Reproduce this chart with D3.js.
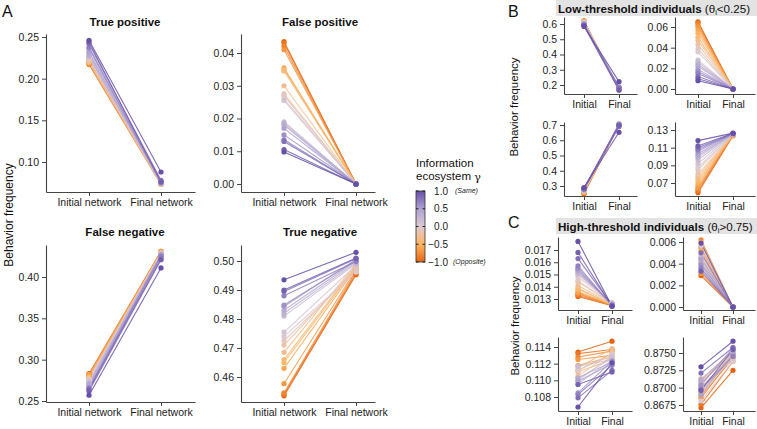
<!DOCTYPE html>
<html>
<head>
<meta charset="utf-8">
<script src="https://cdn.jsdelivr.net/npm/d3@7"></script>
<style>
  body { margin: 0; background: #fff; }
  svg { font-family: "Liberation Sans", Arial, Helvetica, sans-serif; }
  .tick text { fill: #222; }
  .domain, .tick line { stroke: #444; }
</style>
</head>
<body>
<svg id="chart" width="757" height="429"></svg>
<script>
// Information ecosystem gamma for each line
const gamma = [-1.0, -0.9, -0.8, -0.7, -0.6, -0.5, -0.4, -0.3, -0.2, -0.1, 0.0,
               0.1, 0.2, 0.3, 0.4, 0.5, 0.6, 0.7, 0.8, 0.9, 1.0];

// Panel A
const tpInit  = [0.218,0.219,0.217,0.220,0.221,0.222,0.219,0.223,0.221,0.224,0.225,0.226,0.228,0.227,0.230,0.232,0.236,0.238,0.242,0.244,0.246];
const tpFinal = [0.074,0.074,0.073,0.075,0.074,0.075,0.073,0.074,0.075,0.074,0.075,0.076,0.074,0.075,0.076,0.077,0.075,0.076,0.078,0.076,0.088];
const fpInit  = [0.0435,0.0430,0.0420,0.0410,0.0355,0.0350,0.0345,0.0300,0.0275,0.0270,0.0260,0.0255,0.0190,0.0185,0.0180,0.0170,0.0150,0.0135,0.0130,0.0105,0.0098];
const fpFinal = [0,0,0,0,0,0,0,0,0,0,0,0,0,0,0,0,0,0,0,0,0];
const fnInit  = [0.283,0.282,0.281,0.280,0.282,0.279,0.278,0.277,0.276,0.275,0.276,0.274,0.272,0.270,0.271,0.268,0.266,0.264,0.265,0.262,0.257];
const fnFinal = [0.431,0.430,0.431,0.429,0.430,0.429,0.430,0.428,0.429,0.428,0.429,0.427,0.428,0.426,0.427,0.426,0.426,0.425,0.422,0.421,0.411];
const tnInit  = [0.4535,0.4540,0.4545,0.4577,0.4630,0.4650,0.4660,0.4685,0.4710,0.4725,0.4740,0.4755,0.4810,0.4820,0.4830,0.4843,0.4848,0.4880,0.4895,0.4900,0.4935];
const tnFinal = [0.4953,0.4958,0.4965,0.4970,0.4975,0.4980,0.4985,0.4990,0.4975,0.4965,0.4962,0.4985,0.4990,0.4995,0.5000,0.5005,0.5002,0.4998,0.5008,0.5010,0.5030];

// Panel B (low-threshold)
const b1Init  = [0.620,0.619,0.618,0.617,0.616,0.615,0.614,0.612,0.611,0.610,0.609,0.607,0.605,0.603,0.601,0.598,0.596,0.594,0.591,0.588,0.584];
const b1Final = [0.170,0.170,0.171,0.172,0.172,0.173,0.173,0.174,0.175,0.175,0.176,0.177,0.178,0.179,0.180,0.182,0.184,0.186,0.175,0.165,0.222];
const b2Init  = [0.065,0.064,0.062,0.060,0.057,0.054,0.050,0.047,0.043,0.039,0.036,0.028,0.026,0.024,0.022,0.019,0.017,0.015,0.012,0.010,0.008];
const b2Final = [0,0,0,0,0,0,0,0,0,0,0,0,0,0,0,0,0,0,0,0,0];
const b3Init  = [0.250,0.252,0.255,0.258,0.260,0.262,0.264,0.266,0.268,0.270,0.271,0.272,0.273,0.275,0.276,0.277,0.278,0.280,0.283,0.286,0.290];
const b3Final = [0.700,0.701,0.702,0.703,0.703,0.704,0.704,0.705,0.705,0.706,0.706,0.707,0.707,0.706,0.705,0.703,0.700,0.695,0.690,0.700,0.652];
const b4Init  = [0.059,0.061,0.063,0.065,0.068,0.071,0.074,0.077,0.080,0.085,0.088,0.092,0.096,0.099,0.101,0.103,0.106,0.108,0.110,0.112,0.118];
const b4Final = [0.1235,0.1237,0.1240,0.1242,0.1243,0.1245,0.1245,0.1247,0.1248,0.1250,0.1250,0.1252,0.1253,0.1255,0.1255,0.1257,0.1258,0.1260,0.1260,0.1262,0.1265];

// Panel C (high-threshold)
const c1Init  = [0.0132,0.0133,0.0134,0.0135,0.0136,0.0138,0.0139,0.0141,0.0144,0.0145,0.0148,0.0150,0.0151,0.0152,0.0153,0.0154,0.0155,0.0157,0.0163,0.0168,0.0177];
const c1Final = [0.01245,0.01248,0.01250,0.01247,0.01252,0.01255,0.01250,0.01258,0.01262,0.01265,0.01268,0.01270,0.01265,0.01260,0.01255,0.01250,0.01248,0.01245,0.01250,0.01242,0.01240];
const c2Init  = [0.0029,0.0055,0.0062,0.0031,0.0052,0.0045,0.0060,0.0040,0.0048,0.0042,0.0038,0.0056,0.0046,0.0041,0.0035,0.0044,0.0039,0.0036,0.0050,0.0033,0.0059];
const c2Final = [0,0,0,0,0,0,0,0,0,0,0,0,0,0,0,0,0,0,0,0,0];
const c3Init  = [0.1134,0.1132,0.1128,0.1125,0.1118,0.1112,0.1110,0.1115,0.1105,0.1102,0.1112,0.1100,0.1117,0.1096,0.1103,0.1099,0.1085,0.1083,0.1079,0.1095,0.1068];
const c3Final = [0.1147,0.1137,0.1135,0.1130,0.1128,0.1132,0.1125,0.1138,0.1133,0.1127,0.1131,0.1129,0.1125,0.1124,0.1122,0.1120,0.1123,0.1118,0.1112,0.1110,0.1121];
const c4Init  = [0.8671,0.8676,0.8685,0.8688,0.8692,0.8700,0.8706,0.8710,0.8713,0.8703,0.8681,0.8695,0.8700,0.8708,0.8712,0.8690,0.8704,0.8698,0.8721,0.8696,0.8730];
const c4Final = [0.8725,0.8738,0.8745,0.8742,0.8750,0.8748,0.8752,0.8755,0.8745,0.8740,0.8738,0.8743,0.8747,0.8750,0.8753,0.8748,0.8757,0.8745,0.8758,0.8755,0.8767];

// Tick values
const tpTicks = [0.10, 0.15, 0.20, 0.25];
const fpTicks = [0.00, 0.01, 0.02, 0.03, 0.04];
const fnTicks = [0.25, 0.30, 0.35, 0.40];
const tnTicks = [0.46, 0.47, 0.48, 0.49, 0.50];
const b1Ticks = [0.2, 0.3, 0.4, 0.5, 0.6];
const b2Ticks = [0.00, 0.02, 0.04, 0.06];
const b3Ticks = [0.3, 0.4, 0.5, 0.6, 0.7];
const b4Ticks = [0.07, 0.09, 0.11, 0.13];
const c1Ticks = [0.013, 0.014, 0.015, 0.016, 0.017];
const c2Ticks = [0.000, 0.002, 0.004, 0.006];
const c3Ticks = [0.108, 0.110, 0.112, 0.114];
const c4Ticks = [0.8675, 0.8700, 0.8725, 0.8750];
const legendTicks = [1.0, 0.5, 0.0, -0.5, -1.0];

const longLabels = ['Initial network', 'Final network'];
const shortLabels = ['Initial', 'Final'];

const svg = d3.select('#chart');

const color = d3.scaleLinear()
    .domain([-1, -0.5, 0, 0.5, 1])
    .range(['#e6640f', '#fcb55f', '#dbc9d2', '#ada2d0', '#6650a8'])
    .interpolate(d3.interpolateLab);

// panels: ax = y axis x, xi/xf = initial/final x, xe = axis end
const panels = [
    { init: tpInit, fin: tpFinal, ticks: tpTicks, fmt: '.2f', lab: longLabels, title: 'True positive', titleY: 26,
      ax: 46, xi: 89, xf: 161, xe: 195, top: 34, bot: 192, t0: 0.10, p0: 162, t1: 0.25, p1: 37 },
    { init: fpInit, fin: fpFinal, ticks: fpTicks, fmt: '.2f', lab: longLabels, title: 'False positive', titleY: 26,
      ax: 241, xi: 284, xf: 356, xe: 375, top: 34, bot: 192, t0: 0.00, p0: 184, t1: 0.04, p1: 53 },
    { init: fnInit, fin: fnFinal, ticks: fnTicks, fmt: '.2f', lab: longLabels, title: 'False negative', titleY: 236,
      ax: 46, xi: 89, xf: 161, xe: 195, top: 245, bot: 402, t0: 0.25, p0: 401, t1: 0.40, p1: 277 },
    { init: tnInit, fin: tnFinal, ticks: tnTicks, fmt: '.2f', lab: longLabels, title: 'True negative', titleY: 236,
      ax: 241, xi: 284, xf: 356, xe: 375, top: 245, bot: 402, t0: 0.46, p0: 377, t1: 0.50, p1: 261 },

    { init: b1Init, fin: b1Final, ticks: b1Ticks, fmt: '.1f', lab: shortLabels,
      ax: 564, xi: 584, xf: 619, xe: 637, top: 17, bot: 94, t0: 0.2, p0: 85, t1: 0.6, p1: 24 },
    { init: b2Init, fin: b2Final, ticks: b2Ticks, fmt: '.2f', lab: shortLabels,
      ax: 675, xi: 698, xf: 733, xe: 755, top: 17, bot: 94, t0: 0.00, p0: 89, t1: 0.06, p1: 27 },
    { init: b3Init, fin: b3Final, ticks: b3Ticks, fmt: '.1f', lab: shortLabels,
      ax: 564, xi: 584, xf: 619, xe: 637, top: 122, bot: 196, t0: 0.3, p0: 186, t1: 0.7, p1: 125 },
    { init: b4Init, fin: b4Final, ticks: b4Ticks, fmt: '.2f', lab: shortLabels,
      ax: 675, xi: 698, xf: 733, xe: 755, top: 122, bot: 196, t0: 0.07, p0: 183, t1: 0.13, p1: 130 },

    { init: c1Init, fin: c1Final, ticks: c1Ticks, fmt: '.3f', lab: shortLabels,
      ax: 558, xi: 578, xf: 612, xe: 632, top: 237, bot: 310, t0: 0.013, p0: 299, t1: 0.017, p1: 250 },
    { init: c2Init, fin: c2Final, ticks: c2Ticks, fmt: '.3f', lab: shortLabels,
      ax: 683, xi: 701, xf: 733, xe: 755, top: 237, bot: 310, t0: 0.000, p0: 307, t1: 0.006, p1: 242 },
    { init: c3Init, fin: c3Final, ticks: c3Ticks, fmt: '.3f', lab: shortLabels,
      ax: 558, xi: 578, xf: 612, xe: 632, top: 337, bot: 411, t0: 0.108, p0: 397, t1: 0.114, p1: 347 },
    { init: c4Init, fin: c4Final, ticks: c4Ticks, fmt: '.4f', lab: shortLabels,
      ax: 683, xi: 701, xf: 733, xe: 755, top: 337, bot: 411, t0: 0.8675, p0: 405, t1: 0.8750, p1: 353 }
];

function drawPanel(p) {
    const g = svg.append('g');

    const xBase = d3.scaleLinear().domain([0, 1]).range([p.xi, p.xf]);
    const x = d3.scaleLinear().domain([xBase.invert(p.ax), xBase.invert(p.xe)]).range([p.ax, p.xe]);
    const yBase = d3.scaleLinear().domain([p.t0, p.t1]).range([p.p0, p.p1]);
    const y = d3.scaleLinear().domain([yBase.invert(p.bot), yBase.invert(p.top)]).range([p.bot, p.top]);

    g.append('g')
        .attr('transform', `translate(0,${p.bot})`)
        .call(d3.axisBottom(x).tickValues([0, 1]).tickFormat(i => p.lab[i])
            .tickSize(4).tickPadding(3).tickSizeOuter(0))
        .call(a => a.selectAll('text').attr('font-size', 10.5))
        .call(a => a.select('.domain').attr('stroke-width', 1.1));

    g.append('g')
        .attr('transform', `translate(${p.ax},0)`)
        .call(d3.axisLeft(y).tickValues(p.ticks).tickFormat(d3.format(p.fmt))
            .tickSize(4).tickPadding(3).tickSizeOuter(0))
        .call(a => a.selectAll('text').attr('font-size', 10.5))
        .call(a => a.select('.domain').attr('stroke-width', 1.1));

    const rows = gamma.map((gm, i) => ({ gm: gm, a: p.init[i], b: p.fin[i] }));

    g.selectAll('.seg')
        .data(rows)
        .enter()
        .append('line')
        .attr('x1', x(0)).attr('x2', x(1))
        .attr('y1', d => y(d.a)).attr('y2', d => y(d.b))
        .attr('stroke', d => color(d.gm))
        .attr('stroke-width', 1.1)
        .attr('stroke-opacity', 0.85);

    rows.forEach(d => {
        g.append('circle').attr('cx', x(0)).attr('cy', y(d.a)).attr('r', 2.6).attr('fill', color(d.gm));
        g.append('circle').attr('cx', x(1)).attr('cy', y(d.b)).attr('r', 2.6).attr('fill', color(d.gm));
    });

    if (p.title) {
        g.append('text')
            .attr('x', (p.xi + p.xf) / 2)
            .attr('y', p.titleY)
            .attr('text-anchor', 'middle')
            .attr('font-size', 11.5)
            .attr('font-weight', 'bold')
            .attr('fill', '#111')
            .text(p.title);
    }
}

panels.forEach(drawPanel);

// Panel letters
[['A', 2, 17], ['B', 508, 17], ['C', 508, 228]].forEach(([t, x, y]) => {
    svg.append('text').attr('x', x).attr('y', y).attr('font-size', 16).attr('fill', '#111').text(t);
});

// Y axis titles
[[13, 215, 12], [518, 107, 11.5], [519, 326, 11.5]].forEach(([x, y, fs]) => {
    svg.append('text')
        .attr('transform', `translate(${x},${y}) rotate(-90)`)
        .attr('text-anchor', 'middle')
        .attr('font-size', fs)
        .attr('fill', '#111')
        .text('Behavior frequency');
});

// Strip headers for B and C
function strip(y0, h, bold, op) {
    svg.append('rect').attr('x', 556).attr('y', y0).attr('width', 201).attr('height', h).attr('fill', '#e3e3e3');
    const t = svg.append('text').attr('x', 558).attr('y', y0 + h - 3.5).attr('font-size', 11.6).attr('fill', '#111');
    t.append('tspan').attr('font-weight', 'bold').text(bold + ' ');
    t.append('tspan').text('(θ');
    t.append('tspan').attr('font-size', 7.5).attr('dy', 2).text('i');
    t.append('tspan').attr('dy', -2).text(op + ')');
}
strip(0, 16, 'Low-threshold individuals', '<0.25');
strip(218, 16, 'High-threshold individuals', '>0.75');

// Colour bar legend
const lg = svg.append('g');
lg.append('text').attr('x', 416).attr('y', 167).attr('font-size', 11.5).attr('fill', '#111').text('Information');
const eco = lg.append('text').attr('x', 416).attr('y', 180).attr('font-size', 11.5).attr('fill', '#111');
eco.append('tspan').text('ecosystem ');
eco.append('tspan').attr('font-family', 'DejaVu Serif, serif').attr('font-size', 11).attr('dy', 1).text('γ');

const defs = svg.append('defs');
const grad = defs.append('linearGradient').attr('id', 'gammaGrad')
    .attr('x1', 0).attr('y1', 1).attr('x2', 0).attr('y2', 0);
d3.range(0, 1.0001, 0.05).forEach(t => {
    grad.append('stop').attr('offset', t).attr('stop-color', color(-1 + 2 * t));
});

const ly = d3.scaleLinear().domain([-1, 1]).range([262, 191]);
lg.append('rect').attr('x', 416).attr('y', 191).attr('width', 9).attr('height', 71)
    .attr('fill', 'url(#gammaGrad)').attr('stroke', '#333').attr('stroke-width', 0.8);

legendTicks.forEach(v => {
    lg.append('line').attr('x1', 416).attr('x2', 418.5).attr('y1', ly(v)).attr('y2', ly(v)).attr('stroke', '#222');
    lg.append('line').attr('x1', 422.5).attr('x2', 425).attr('y1', ly(v)).attr('y2', ly(v)).attr('stroke', '#222');
    lg.append('text').attr('x', 448).attr('y', ly(v)).attr('dy', '0.35em')
        .attr('text-anchor', 'end').attr('font-size', 10).attr('fill', '#222')
        .text(v < 0 ? '\u2212' + d3.format('.1f')(-v) : d3.format('.1f')(v));
});
lg.append('text').attr('x', 455).attr('y', ly(1)).attr('dy', '0.35em').attr('font-size', 7)
    .attr('font-style', 'italic').attr('fill', '#222').text('(Same)');
lg.append('text').attr('x', 453).attr('y', ly(-1)).attr('dy', '0.35em').attr('font-size', 7)
    .attr('font-style', 'italic').attr('fill', '#222').text('(Opposite)');
</script>
</body>
</html>
